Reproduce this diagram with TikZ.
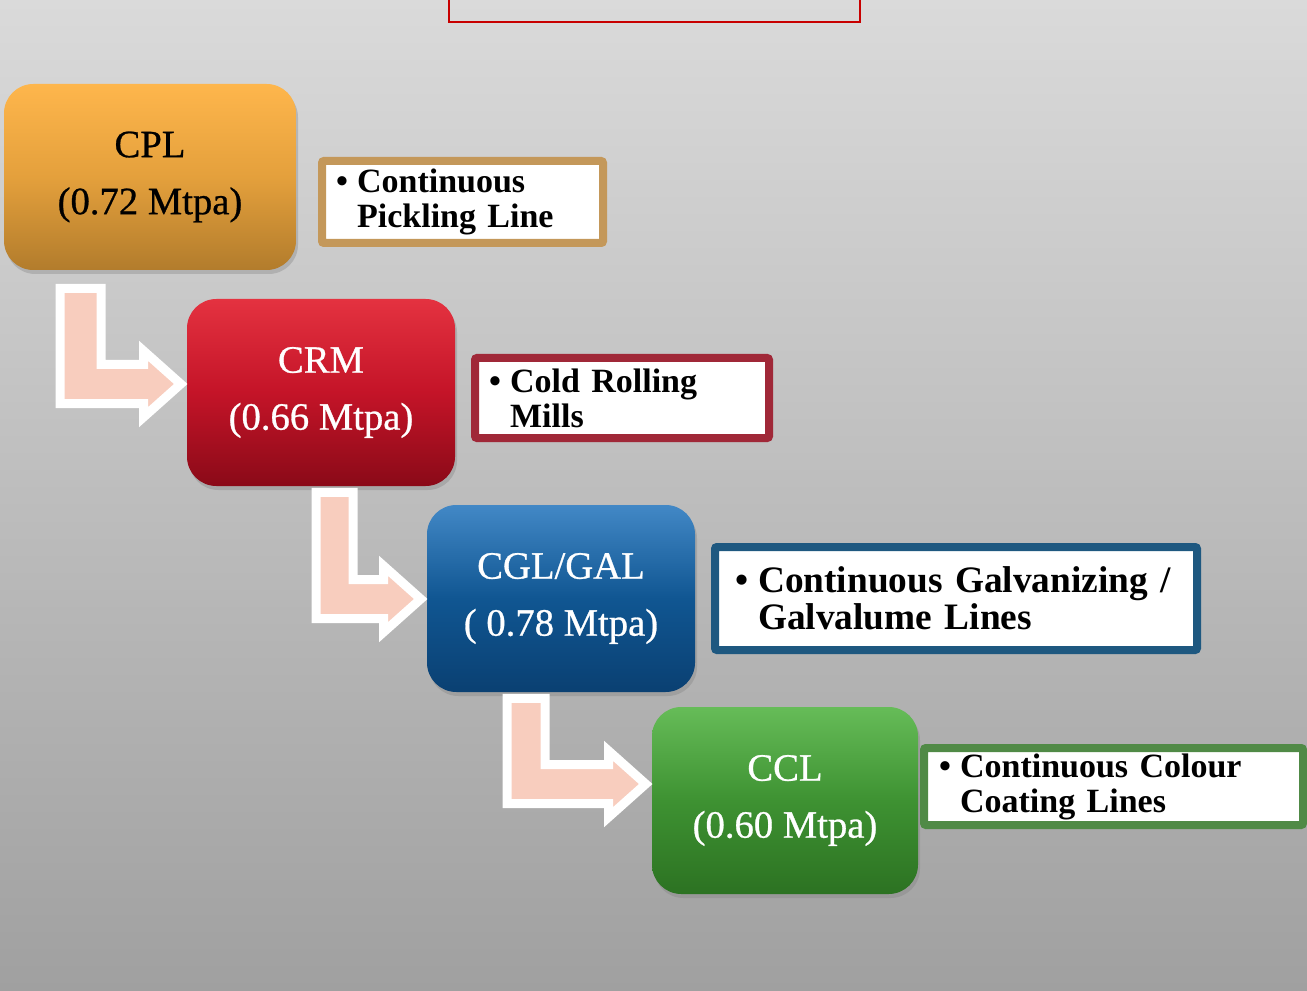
\documentclass[tikz,border=0pt]{standalone}
\usepackage{fontspec}
\setmainfont{Liberation Serif}
\newfontfamily\stagefont{Liberation Serif}[FakeBold=0.7]
\usetikzlibrary{calc,shadows}

\definecolor{bgTop}{RGB}{218,218,218}
\definecolor{bgBot}{RGB}{160,160,160}
\definecolor{titleRed}{RGB}{200,0,0}
\definecolor{arrowPeach}{RGB}{248,205,190}
\definecolor{cplTop}{RGB}{254,182,76}
\definecolor{cplMid}{RGB}{228,160,60}
\definecolor{cplBot}{RGB}{178,124,44}
\definecolor{crmTop}{RGB}{228,50,64}
\definecolor{crmMid}{RGB}{196,20,40}
\definecolor{crmBot}{RGB}{138,10,24}
\definecolor{cglTop}{RGB}{66,136,198}
\definecolor{cglMid}{RGB}{16,86,146}
\definecolor{cglBot}{RGB}{10,64,114}
\definecolor{cclTop}{RGB}{102,188,88}
\definecolor{cclMid}{RGB}{62,146,50}
\definecolor{cclBot}{RGB}{44,114,34}
\definecolor{cplLine}{RGB}{196,152,90}
\definecolor{crmLine}{RGB}{160,40,56}
\definecolor{cglLine}{RGB}{30,88,128}
\definecolor{cclLine}{RGB}{80,138,70}

\newcommand{\notebullet}{\makebox[0.62em][l]{\textbullet}}

\tikzset{
  stagebox/.style={rounded corners=22pt, align=center, inner sep=0pt,
    font=\stagefont\fontsize{29}{42.75}\selectfont,
    drop shadow={shadow xshift=1.5pt,shadow yshift=-3pt,opacity=.35}},
  notebox/.style={draw, line width=6pt, fill=white, rounded corners=1.5pt,
    align=left, inner ysep=0pt,
    font=\fontsize{25.5}{26.25}\selectfont\bfseries},
  flowarrow/.style={fill=arrowPeach, draw=white, line width=6.75pt, miter limit=10}
}

\begin{document}
\begin{tikzpicture}[x=0.75pt,y=-0.75pt]
  \useasboundingbox (0,0) rectangle (1307,991);
  \clip (0,0) rectangle (1307,991);
  \fill[top color=bgTop, bottom color=bgBot] (0,0) rectangle (1307,991);

  % title frame, cut at the top edge
  \draw[titleRed, line width=1.5pt] (449,-20) rectangle (860,22);

  % process stages
  \node (cpl) [stagebox, minimum width=219pt, minimum height=139.5pt,
    top color=cplTop, bottom color=cplBot, middle color=cplMid, text=black]
    at (150,177) {CPL\\(0.72 Mtpa)};
  \node (crm) [stagebox, minimum width=201pt, minimum height=140.25pt,
    top color=crmTop, bottom color=crmBot, middle color=crmMid, text=white]
    at (321,392.5) {CRM\\(0.66 Mtpa)};
  \node (cgl) [stagebox, minimum width=201pt, minimum height=140.25pt,
    top color=cglTop, bottom color=cglBot, middle color=cglMid, text=white]
    at (561,598.5) {CGL/GAL\\( 0.78 Mtpa)};
  \node (ccl) [stagebox, minimum width=199.5pt, minimum height=140.25pt,
    top color=cclTop, bottom color=cclBot, middle color=cclMid, text=white]
    at (785,800.5) {CCL\\(0.60 Mtpa)};

  % notes
  \node (cplnote) [notebox, draw=cplLine, inner xsep=10.5pt, text width=189.75pt,
    minimum height=61.5pt] at (462.5,202)
    {\notebullet Continuous\\\hphantom{\notebullet}Pickling Line};
  \node (crmnote) [notebox, draw=crmLine, inner xsep=10.5pt, text width=199.5pt,
    minimum height=60pt] at (622,398)
    {\notebullet Cold Rolling\\\hphantom{\notebullet}Mills};
  \node (cglnote) [notebox, draw=cglLine, inner xsep=15pt, text width=331.5pt,
    minimum height=77.25pt, font=\fontsize{28}{27.75}\selectfont\bfseries] at (956,598.5)
    {\notebullet Continuous Galvanizing /\\\hphantom{\notebullet}Galvalume Lines};
  \node (cclnote) [notebox, draw=cclLine, inner xsep=11.25pt, text width=261.75pt,
    minimum height=57.75pt] at (1113.5,786.5)
    {\notebullet Continuous Colour\\\hphantom{\notebullet}Coating Lines};

  % bent arrows between the stages
  \foreach \from/\to/\xl/\xr/\gap/\yc in {cpl/crm/60/101/18/384,
      crm/cgl/316/353/6/599, cgl/ccl/507/545/6/784}
    \draw[flowarrow]
      ($(\xl,0 |- \from.south)+(0,\gap)$) -- ($(\xr,0 |- \from.south)+(0,\gap)$)
      -- (\xr,\yc-19.5) -- ($(\to.west |- 0,\yc)+(-43,-19.5)$)
      -- ($(\to.west |- 0,\yc)+(-43,-33)$) -- ($(\to.west |- 0,\yc)+(-6,0)$)
      -- ($(\to.west |- 0,\yc)+(-43,33)$) -- ($(\to.west |- 0,\yc)+(-43,19.5)$)
      -- (\xl,\yc+19.5) -- cycle;
\end{tikzpicture}
\end{document}
